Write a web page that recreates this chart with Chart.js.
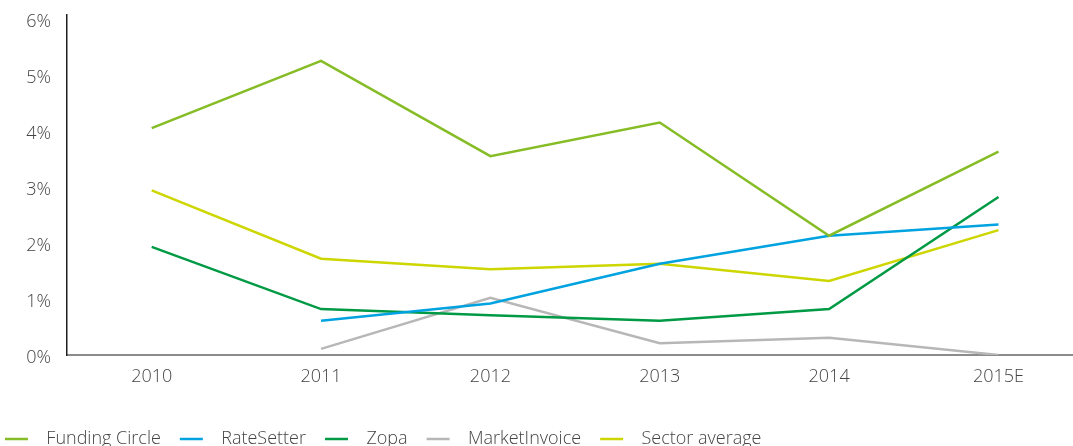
<!DOCTYPE html>
<html>
<head>
<meta charset="utf-8">
<script src="https://cdn.jsdelivr.net/npm/chart.js@4"></script>
<style>
  html, body { margin: 0; padding: 0; background: #fff; overflow: hidden; }
  #wrap { position: relative; width: 1073px; height: 458px; }
</style>
</head>
<body>
<div id="wrap"><canvas id="grafico"></canvas></div>
<script>
// -------- DADOS --------
const anos = ["2010", "2011", "2012", "2013", "2014", "2015E"];
const fundingCircle = [4.05, 5.25, 3.55, 4.15, 2.13, 3.63];
const rateSetter    = [null, 0.61, 0.92, 1.63, 2.13, 2.33];
const zopa          = [1.93, 0.82, 0.71, 0.61, 0.82, 2.82];
const marketInvoice = [null, 0.11, 1.02, 0.21, 0.31, 0.0];
const sectorAverage = [2.94, 1.72, 1.53, 1.63, 1.32, 2.23];
const yTicks = [0, 1, 2, 3, 4, 5, 6];

const fonte = { family: "'Open Sans', sans-serif", size: 18, weight: 300 };
const corTexto = "#444444";

function pontos(arr){
    return arr.map((v,i)=>({x:i, y:v}));
}

function serie(label, arr, cor){
    return {
        label: label,
        data: pontos(arr),
        borderColor: cor,
        backgroundColor: cor,
        borderWidth: 2.5,
        pointRadius: 0,
        tension: 0,
        fill: false
    };
}

// -------- GRÁFICO --------
new Chart(document.getElementById("grafico"), {
    type: "line",
    data: {
        datasets: [
            serie("Funding Circle", fundingCircle, "#86bc25"),
            serie("RateSetter", rateSetter, "#00a3e0"),
            serie("Zopa", zopa, "#009a44"),
            serie("MarketInvoice", marketInvoice, "#b7b7b7"),
            serie("Sector average", sectorAverage, "#cdd600")
        ]
    },
    options: {
        responsive: true,
        maintainAspectRatio: false,
        animation: false,
        layout: { padding: { top: 15, left: 0, right: 0, bottom: 0 } },
        plugins: {
            tooltip: { enabled: false },
            legend: {
                position: "bottom",
                align: "start",
                labels: {
                    usePointStyle: true,
                    pointStyle: "line",
                    pointStyleWidth: 23,
                    padding: 5,
                    color: corTexto,
                    font: fonte,
                    generateLabels: chart =>
                        Chart.defaults.plugins.legend.labels.generateLabels(chart)
                            .map(l => ({...l, pointStyle: "line", text: "  " + l.text + "   "}))
                }
            }
        },
        scales: {
            x: {
                type: "linear",
                min: -0.5,
                max: 5.44,
                grid: { display: false, drawTicks: false },
                border: { display: true, color: "#8c8c8c", width: 2 },
                afterBuildTicks: s => { s.ticks = anos.map((_,i)=>({value:i})); },
                afterFit: s => { s.height = 70; },
                ticks: {
                    padding: 11,
                    color: corTexto,
                    font: fonte,
                    maxRotation: 0,
                    autoSkip: false,
                    callback: v => anos[v] ?? ""
                }
            },
            y: {
                min: 0,
                max: 6.07,
                // marcas invisíveis: só afastam os rótulos do eixo
                grid: { display: false, drawTicks: true, tickLength: 16 },
                border: { display: true, color: "#1e1e1e", width: 1.5 },
                afterBuildTicks: s => { s.ticks = yTicks.map(v=>({value:v})); },
                afterFit: s => { s.width = 67; },
                ticks: {
                    padding: 0,
                    labelOffset: 3,
                    color: corTexto,
                    font: fonte,
                    callback: v => v + "%"
                }
            }
        }
    }
});
</script>
</body>
</html>
